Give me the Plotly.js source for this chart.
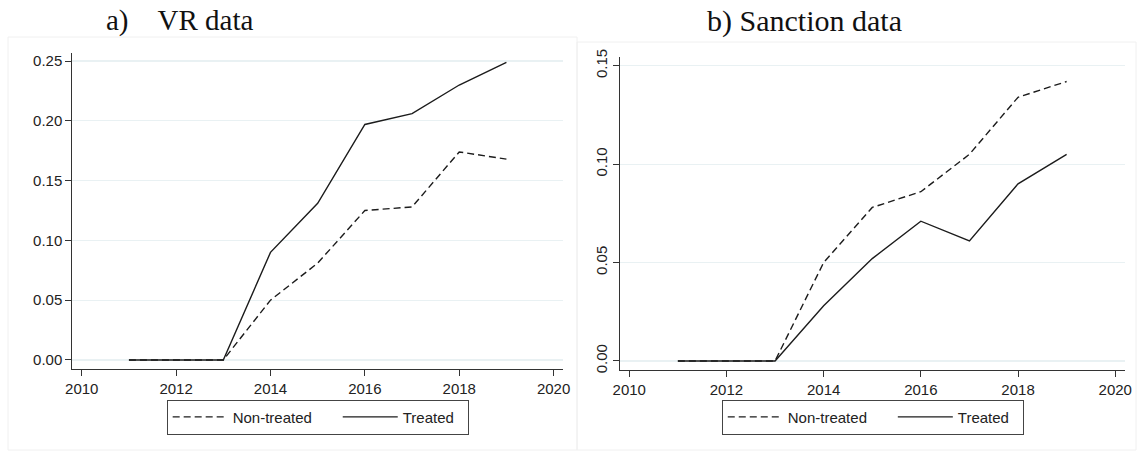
<!DOCTYPE html>
<html>
<head>
<meta charset="utf-8">
<script src="https://cdn.plot.ly/plotly-3.0.1.min.js"></script>
<style>
  html, body { margin: 0; padding: 0; background: #fff; }
  #chart { width: 1137px; height: 451px; }
</style>
</head>
<body>
<div id="chart"></div>
<script>
// Years observed in both panels
const years = [2011, 2012, 2013, 2014, 2015, 2016, 2017, 2018, 2019];

// Panel a) VR data: share over time
const vrNonTreated = [0, 0, 0, 0.050, 0.081, 0.125, 0.128, 0.174, 0.168];
const vrTreated    = [0, 0, 0, 0.090, 0.131, 0.197, 0.206, 0.230, 0.249];

// Panel b) Sanction data: share over time
const sanNonTreated = [0, 0, 0, 0.050, 0.078, 0.086, 0.105, 0.134, 0.142];
const sanTreated    = [0, 0, 0, 0.028, 0.052, 0.071, 0.061, 0.090, 0.105];

// Axis tick labels
const xTicks = [2010, 2012, 2014, 2016, 2018, 2020];
const vrTicks = [0, 0.05, 0.10, 0.15, 0.20, 0.25];
const sanTicks = [0, 0.05, 0.10, 0.15];

const panelTitles = ['a)\u2003VR data', 'b) Sanction data'];
const seriesNames = ['Non-treated', 'Treated'];

// Legend labels get a little trailing non-breaking space so the entries sit further apart
const nb = n => '\u00a0'.repeat(n);
const legendLabels = [seriesNames[0] + nb(5), seriesNames[1] + nb(2)];

const ink = '#1c1c1c';
const dashed = '7px,4px';

const traces = [
  { x: years, y: vrNonTreated, name: legendLabels[0], xaxis: 'x', yaxis: 'y', legend: 'legend',
    mode: 'lines', line: { color: ink, width: 1.4, dash: dashed } },
  { x: years, y: vrTreated, name: legendLabels[1], xaxis: 'x', yaxis: 'y', legend: 'legend',
    mode: 'lines', line: { color: ink, width: 1.4 } },
  { x: years, y: sanNonTreated, name: legendLabels[0], xaxis: 'x2', yaxis: 'y2', legend: 'legend2',
    mode: 'lines', line: { color: ink, width: 1.4, dash: dashed } },
  { x: years, y: sanTreated, name: legendLabels[1], xaxis: 'x2', yaxis: 'y2', legend: 'legend2',
    mode: 'lines', line: { color: ink, width: 1.4 } }
];

const tickFont = { family: 'Liberation Sans, Arial, sans-serif', size: 15, color: '#222' };
const gridColor = '#e9f1f3';

function xAxis(domain) {
  return {
    domain: domain, range: [2009.8, 2020.2], tickvals: xTicks, ticktext: xTicks.map(String),
    showline: true, linecolor: '#333', linewidth: 1, ticks: 'outside', ticklen: 6,
    tickcolor: '#333', showgrid: false, zeroline: false, tickfont: tickFont, fixedrange: true
  };
}
function yAxis(domain, range, vals, anchor, angle) {
  return {
    domain: domain, range: range, tickvals: vals, ticktext: vals.map(v => v.toFixed(2)),
    showline: true, linecolor: '#333', linewidth: 1, ticks: 'outside', ticklen: 6,
    tickcolor: '#333', showgrid: true, gridcolor: gridColor, gridwidth: 1.2,
    zeroline: false, tickfont: tickFont, tickangle: angle, anchor: anchor, fixedrange: true
  };
}

function legendBox(xc) {
  return {
    orientation: 'h', x: xc, xanchor: 'center', y: 0.114, yanchor: 'top',
    bordercolor: '#444', borderwidth: 1, bgcolor: '#fff', itemwidth: 55,
    font: { family: 'Liberation Sans, Arial, sans-serif', size: 15, color: '#222' },
    tracegroupgap: 0, traceorder: 'normal', itemclick: false, itemdoubleclick: false
  };
}

const layout = {
  width: 1137, height: 451,
  margin: { l: 0, r: 0, t: 0, b: 0 },
  paper_bgcolor: '#fff', plot_bgcolor: '#fff',
  showlegend: true,
  xaxis: Object.assign(xAxis([0.0636, 0.4952]), { anchor: 'y' }),
  yaxis: yAxis([0.1812, 0.8831], [-0.0078, 0.257], vrTicks, 'x', 0),
  xaxis2: Object.assign(xAxis([0.5449, 0.9894]), { anchor: 'y2' }),
  yaxis2: yAxis([0.1796, 0.8743], [-0.0046, 0.1546], sanTicks, 'x2', -90),
  legend: legendBox(0.2794),
  legend2: legendBox(0.7676),
  shapes: [
    { type: 'rect', xref: 'paper', yref: 'paper', x0: 8 / 1137, x1: 577 / 1137, y0: 1 / 451, y1: 1 - 37 / 451,
      line: { color: '#f0f0f0', width: 1 }, layer: 'below' },
    { type: 'rect', xref: 'paper', yref: 'paper', x0: 577 / 1137, x1: 1136 / 1137, y0: 1 / 451, y1: 1 - 42 / 451,
      line: { color: '#f0f0f0', width: 1 }, layer: 'below' }
  ],
  annotations: [
    { text: panelTitles[0], xref: 'paper', yref: 'paper', x: 179 / 1137, y: 1 - 21 / 451,
      xanchor: 'center', yanchor: 'middle', showarrow: false,
      font: { family: 'Liberation Serif, DejaVu Serif, serif', size: 29, color: '#111' } },
    { text: panelTitles[1], xref: 'paper', yref: 'paper', x: 804 / 1137, y: 1 - 21 / 451,
      xanchor: 'center', yanchor: 'middle', showarrow: false,
      font: { family: 'Liberation Serif, DejaVu Serif, serif', size: 30, color: '#111' } }
  ]
};

Plotly.newPlot('chart', traces, layout, { staticPlot: true, displayModeBar: false });
</script>
</body>
</html>
